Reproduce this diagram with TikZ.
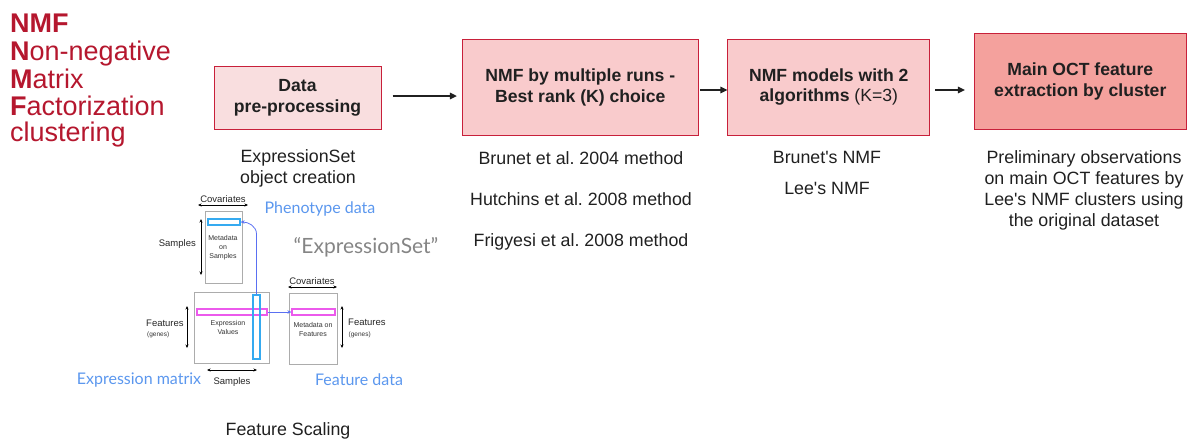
\documentclass[tikz,border=0pt]{standalone}
\usepackage{fontspec}
\setmainfont{Liberation Sans}
\newfontfamily\lato{Lato}
\usetikzlibrary{arrows.meta,shadows}
\definecolor{nmfred}{HTML}{B5172E}
\definecolor{boxborder}{HTML}{C8203A}
\definecolor{fillA}{HTML}{F9DEDF}
\definecolor{fillB}{HTML}{F9CBCC}
\definecolor{fillC}{HTML}{F4A19D}
\definecolor{lblue}{HTML}{5B97EE}
\definecolor{linkblue}{HTML}{5A70F2}
\definecolor{cyanbar}{HTML}{35AAF0}
\definecolor{pinkbar}{HTML}{EC5AEC}
\definecolor{txtdark}{HTML}{202020}
\definecolor{quotegray}{HTML}{858585}
\frenchspacing
\begin{document}
\begin{tikzpicture}[x=1pt,y=-1pt,
  titleline/.style={anchor=base west, inner sep=0pt, text=nmfred, font=\fontsize{27}{29}\selectfont},
  stagebox/.style={draw=boxborder, line width=0.9pt, align=center, inner sep=0pt, text=txtdark,
                   font=\fontsize{17.6}{20.5}\selectfont\bfseries},
  note/.style={anchor=base, inner sep=0pt, text=txtdark, font=\fontsize{17.8}{21}\selectfont},
  flow/.style={draw=txtdark, line width=1.4pt, -{Triangle[length=7pt,width=6.5pt]}},
  ebox/.style={draw=gray!65, line width=0.8pt, fill=white, inner sep=0pt,
               drop shadow={shadow xshift=1.2pt,shadow yshift=-1.2pt,opacity=0.25}},
  hbar/.style={draw, line width=1.2pt, inner sep=0pt},
  small/.style={inner sep=0pt, text=black!85, font=\fontsize{9.5}{10}\selectfont},
  tiny/.style={inner sep=0pt, text=black!80, align=center, font=\fontsize{7}{9}\selectfont},
  dim/.style={draw=black, line width=0.7pt, {Stealth[length=3.5pt,width=3pt]}-{Stealth[length=3.5pt,width=3pt]}},
  link/.style={draw=linkblue, line width=0.8pt, -{Stealth[length=4pt,width=3.5pt]}},
  bluelbl/.style={inner sep=0pt, text=lblue, font=\lato\fontsize{16}{18}\selectfont}]
\useasboundingbox (0,0) rectangle (1198,440);

% ---------- title ----------
\node[titleline] (t1) at (10,32) {\textbf{NMF}};
\node[titleline] (t2) at (10,60.5) {\textbf{N}on-negative};
\node[titleline] (t3) at (10,88) {\textbf{M}atrix};
\node[titleline] (t4) at (10,115.5) {\textbf{F}actorization};
\node[titleline] (t5) at (10,141.5) {clustering};

% ---------- stage boxes ----------
\node[stagebox, fill=fillA, minimum width=167pt, minimum height=63pt] (b1) at (297.5,97.7) {Data\\pre-processing};
\node[stagebox, fill=fillB, minimum width=236pt, minimum height=96pt] (b2) at (580.3,87.2) {NMF by multiple runs -\\Best rank (K) choice};
\node[stagebox, fill=fillB, minimum width=202pt, minimum height=96pt] (b3) at (828.8,87.2) {NMF models with 2\\algorithms \textmd{(K=3)}};
\node[stagebox, fill=fillC, minimum width=212pt, minimum height=96pt] (b4) at (1080.3,81.3) {Main OCT feature\\extraction by cluster};

% ---------- flow arrows ----------
\coordinate (a1s) at (392.5,96);
\coordinate (a2s) at (700,90);
\coordinate (a3s) at (935,90);
\draw[flow] (a1s) -- ([xshift=-5pt]a1s -| b2.west);
\draw[flow] (a2s) -- (a2s -| b3.west);
\draw[flow] (a3s) -- ([xshift=-9pt]a3s -| b4.west);

% ---------- notes ----------
\node[note] (n1a) at (298,162.5) {ExpressionSet};
\node[note] (n1b) at (298,183.5) {object creation};
\node[note] (n2a) at (581,164) {Brunet et al. 2004 method};
\node[note] (n2b) at (581,205) {Hutchins et al. 2008 method};
\node[note] (n2c) at (581,246) {Frigyesi et al. 2008 method};
\node[note] (n3a) at (827,163) {Brunet\textquotesingle s NMF};
\node[note] (n3b) at (827,194) {Lee\textquotesingle s NMF};
\node[note] (n4a) at (1084,163.3) {Preliminary observations};
\node[note] (n4b) at (1084,184.3) {on main OCT features by};
\node[note] (n4c) at (1084,205.3) {Lee\textquotesingle s NMF clusters using};
\node[note] (n4d) at (1084,226) {the original dataset};
\node[note] (n5) at (288,435) {Feature Scaling};

% ---------- ExpressionSet figure ----------
% phenotype (samples) box
\node[ebox, minimum width=37pt, minimum height=72pt] (sbox) at (223.5,247) {};
\node[hbar, draw=cyanbar, minimum width=32pt, minimum height=6pt] (sbar) at (224,222) {};
\node[tiny] (stxt) at (223,247.5) {Metadata\\on\\Samples};
\coordinate (sc1) at (198,205); \coordinate (sc2) at (248,205);
\draw[dim] (sc1) -- (sc2);
\node[small, anchor=base] (scov) at (223,202) {Covariates};
\coordinate (ss1) at (201,219); \coordinate (ss2) at (201,275);
\draw[dim] (ss1) -- (ss2);
\node[small, anchor=east] (ssam) at (196,244) {Samples};

% expression matrix
\node[ebox, minimum width=75pt, minimum height=71pt] (ebx) at (231.5,327.5) {};
\node[tiny] (etxt) at (228,327.5) {Expression\\Values};
\node[hbar, draw=pinkbar, minimum width=70pt, minimum height=6pt] (pbar) at (232,312) {};
\node[hbar, draw=cyanbar, minimum width=7pt, minimum height=64pt] (vbar) at (256.5,327) {};
\coordinate (ef1) at (187,306); \coordinate (ef2) at (187,348);
\draw[dim] (ef1) -- (ef2);
\node[small, anchor=base west] (efeat) at (146,326) {Features};
\node[tiny, anchor=base west, font=\fontsize{6.5}{7}\selectfont] (egen) at (147,336) {(genes)};
\coordinate (es1) at (207,370); \coordinate (es2) at (257,370);
\draw[dim] (es1) -- (es2);
\node[small, anchor=base] (esam) at (232,384) {Samples};

% feature data box
\node[ebox, minimum width=48pt, minimum height=71pt] (fbx) at (313,328.5) {};
\node[hbar, draw=pinkbar, minimum width=43pt, minimum height=6pt] (fbar) at (313.5,312) {};
\node[tiny] (ftxt) at (313,329) {Metadata on\\Features};
\coordinate (fc1) at (288,287); \coordinate (fc2) at (337,287);
\draw[dim] (fc1) -- (fc2);
\node[small, anchor=base] (fcov) at (312,284) {Covariates};
\coordinate (ff1) at (342,306); \coordinate (ff2) at (342,348);
\draw[dim] (ff1) -- (ff2);
\node[small, anchor=base west] (ffeat) at (348,325.5) {Features};
\node[tiny, anchor=base west, font=\fontsize{6.5}{7}\selectfont] (fgen) at (348.5,336) {(genes)};

% blue links
\draw[link] (pbar.east) -- (fbar.west);
\coordinate (bend) at (256.5,234);
\draw[link] (vbar.north) -- (bend) to[out=90,in=0] (sbar.east);

% labels
\node[bluelbl] (lph) at (320,209) {Phenotype data};
\node[inner sep=0pt, text=quotegray, font=\lato\fontsize{21}{23}\selectfont] (lexs) at (366,247) {“ExpressionSet”};
\node[bluelbl] (lem) at (139,380) {Expression matrix};
\node[bluelbl] (lfd) at (359,380) {Feature data};
\end{tikzpicture}
\end{document}
